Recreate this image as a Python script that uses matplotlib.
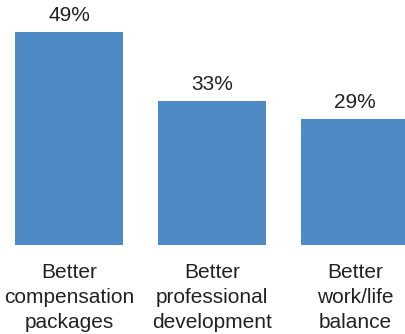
import numpy as np
import matplotlib
matplotlib.use("Agg")
import matplotlib.pyplot as plt

plt.rcParams['font.family'] = ['Liberation Sans', 'DejaVu Sans']

categories = ["Better\ncompensation\npackages",
              "Better\nprofessional\ndevelopment",
              "Better\nwork/life\nbalance"]
values = [49, 33, 29]
value_labels = ["49%", "33%", "29%"]

fig = plt.figure(figsize=(4.06, 3.34), dpi=100)
ax = fig.add_axes([0, 89 / 334, 1, 245 / 334])

x = np.arange(len(categories))
ax.bar(x, values, width=0.755, color="#4e8bc6")

# percentage above each bar
for xi, v, lab in zip(x, values, value_labels):
    ax.annotate(lab, (xi, v), xytext=(0, 8), textcoords="offset points",
                ha="center", va="baseline", fontsize=15, color="#222222")

ax.set_xlim(-0.483, 2.357)
ax.set_ylim(0, 56.3)
ax.set_xticks(x)
ax.set_xticklabels(categories, fontsize=15, color="#222222", linespacing=1.4)
ax.tick_params(axis="x", length=0, pad=13)
ax.set_yticks([])
for s in ax.spines.values():
    s.set_visible(False)

fig.savefig("out.png", dpi=100)
